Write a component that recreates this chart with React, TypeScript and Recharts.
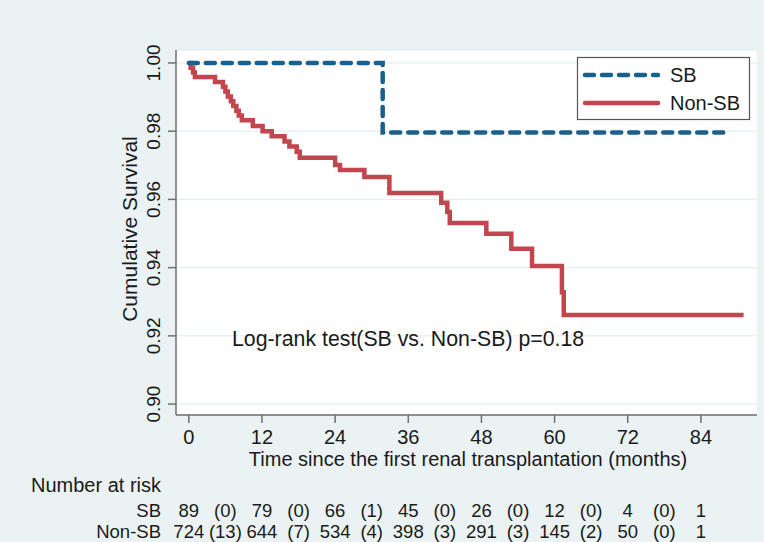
import React from 'react';
import { ComposedChart, Line, XAxis, YAxis, CartesianGrid, Customized } from 'recharts';

// ---- data ----
const xTicks = [0, 12, 24, 36, 48, 60, 72, 84];
const yTicks = [0.9, 0.92, 0.94, 0.96, 0.98, 1.0];

const sbAtRisk = [89, 79, 66, 45, 26, 12, 4, 1];
const sbEvents = [0, 0, 1, 0, 0, 0, 0];
const nonSbAtRisk = [724, 644, 534, 398, 291, 145, 50, 1];
const nonSbEvents = [13, 7, 4, 3, 3, 2, 0];

const sbTime = [0, 31.8, 88.5];
const sbSurv = [1.0, 0.9796, 0.9796];

const nonSbTime = [0, 0.3, 0.7, 1.0, 4.3, 5.6, 6.0, 6.4, 6.9, 7.3, 7.8, 8.2, 8.7, 10.5, 12.1, 13.6, 15.7, 16.5, 17.7, 18.2, 24.0, 24.8, 28.8, 32.9, 41.4, 42.4, 42.8, 48.8, 52.9, 56.3, 61.2, 61.5, 91.0];
const nonSbSurv = [1.0, 0.9986, 0.9972, 0.9959, 0.9944, 0.993, 0.9916, 0.9902, 0.9888, 0.9874, 0.986, 0.9846, 0.9832, 0.9815, 0.98, 0.9785, 0.977, 0.9755, 0.974, 0.9722, 0.9701, 0.9686, 0.9666, 0.9619, 0.959, 0.9563, 0.9531, 0.9499, 0.9455, 0.9405, 0.9328, 0.9261, 0.9261];

const sbData = sbTime.map((t, i) => ({ t, s: sbSurv[i] }));
const nonSbData = nonSbTime.map((t, i) => ({ t, s: nonSbSurv[i] }));

const allTicks = xTicks.flatMap((t, i) => (i < xTicks.length - 1 ? [t, t + 6] : [t]));

// ---- style ----
const BG = '#EAF2F3';
const GRID = '#DDEBF0';
const AXIS = '#6F6F6F';
const SB_COLOR = '#1B5F8C';
const NON_COLOR = '#C1464E';
const TEXT = '#1a1a1a';
const FONT = '"Liberation Sans", Arial, sans-serif';
const FS = 20;
const TFS = 18.5;

const XTick = (props: any) => {
  const { x, y, payload } = props;
  const v = payload.value as number;
  const isMain = v % 12 === 0;
  const idx = Math.floor(v / 12);
  const sbText = isMain ? String(sbAtRisk[idx]) : `(${sbEvents[idx]})`;
  const nonText = isMain ? String(nonSbAtRisk[idx]) : `(${nonSbEvents[idx]})`;
  return (
    <g>
      {isMain && <line x1={x} y1={y} x2={x} y2={y + 8} stroke={AXIS} strokeWidth={1.5} />}
      {isMain && (
        <text x={x} y={y + 29} textAnchor="middle" fontSize={FS} fontFamily={FONT} fill={TEXT}>
          {v}
        </text>
      )}
      <text x={x} y={y + 102} textAnchor="middle" fontSize={TFS} fontFamily={FONT} fill={TEXT}>
        {sbText}
      </text>
      <text x={x} y={y + 123} textAnchor="middle" fontSize={TFS} fontFamily={FONT} fill={TEXT}>
        {nonText}
      </text>
    </g>
  );
};

const YTick = (props: any) => {
  const { x, y, payload } = props;
  const bx = x - 8;
  return (
    <text
      x={bx}
      y={y}
      transform={`rotate(-90 ${bx} ${y})`}
      textAnchor="middle"
      fontSize={19}
      fontFamily={FONT}
      fill={TEXT}
    >
      {Number(payload.value).toFixed(2)}
    </text>
  );
};

const Overlay = () => (
  <g fontFamily={FONT} fill={TEXT} fontSize={FS}>
    <text x={137} y={229} transform="rotate(-90 137 229)" textAnchor="middle" fontSize={21}>
      Cumulative Survival
    </text>
    <text x={468} y={466} textAnchor="middle">
      Time since the first renal transplantation (months)
    </text>
    <text x={161} y={492} textAnchor="end">
      Number at risk
    </text>
    <text x={161} y={517} textAnchor="end" fontSize={TFS}>
      SB
    </text>
    <text x={161} y={538} textAnchor="end" fontSize={TFS}>
      Non-SB
    </text>
    <text x={232} y={346} textAnchor="start" fontSize={21.3}>
      Log-rank test(SB vs. Non-SB) p=0.18
    </text>
    <rect x={577.5} y={57.5} width={172} height={62} fill="#ffffff" stroke="#555555" strokeWidth={1.2} />
    <line x1={585} y1={75} x2={658} y2={75} stroke={SB_COLOR} strokeWidth={4.5} strokeDasharray="9 8" strokeLinecap="round" />
    <text x={670} y={82}>SB</text>
    <line x1={585} y1={103} x2={658} y2={103} stroke={NON_COLOR} strokeWidth={4.5} strokeLinecap="round" />
    <text x={670} y={110}>Non-SB</text>
  </g>
);

export default function App() {
  return (
    <div style={{ position: 'absolute', left: 0, top: 0, width: 764, height: 542, background: BG }}>
      <ComposedChart width={764} height={542} margin={{ top: 50, right: 7, bottom: 97, left: 116 }}>
        <CartesianGrid vertical={false} stroke={GRID} strokeWidth={1} fill="#ffffff" />
        <XAxis
          type="number"
          dataKey="t"
          domain={[-2.1, 93.2]}
          allowDataOverflow
          ticks={allTicks}
          interval={0}
          tickLine={false}
          tickSize={0}
          tickMargin={0}
          tick={<XTick />}
          axisLine={{ stroke: AXIS, strokeWidth: 1.5 }}
          height={30}
        />
        <YAxis
          type="number"
          domain={[0.8968, 1.0038]}
          allowDataOverflow
          ticks={yTicks}
          interval={0}
          tickSize={8}
          tickMargin={0}
          tickLine={{ stroke: AXIS, strokeWidth: 1.5 }}
          axisLine={{ stroke: AXIS, strokeWidth: 1.5 }}
          tick={<YTick />}
          width={60}
        />
        <Line
          data={nonSbData}
          dataKey="s"
          type="stepAfter"
          stroke={NON_COLOR}
          strokeWidth={4.5}
          dot={false}
          isAnimationActive={false}
        />
        <Line
          data={sbData}
          dataKey="s"
          type="stepAfter"
          stroke={SB_COLOR}
          strokeWidth={4.5}
          strokeDasharray="9 8"
          strokeLinecap="round"
          dot={false}
          isAnimationActive={false}
        />
        <Customized component={<Overlay />} />
      </ComposedChart>
    </div>
  );
}
